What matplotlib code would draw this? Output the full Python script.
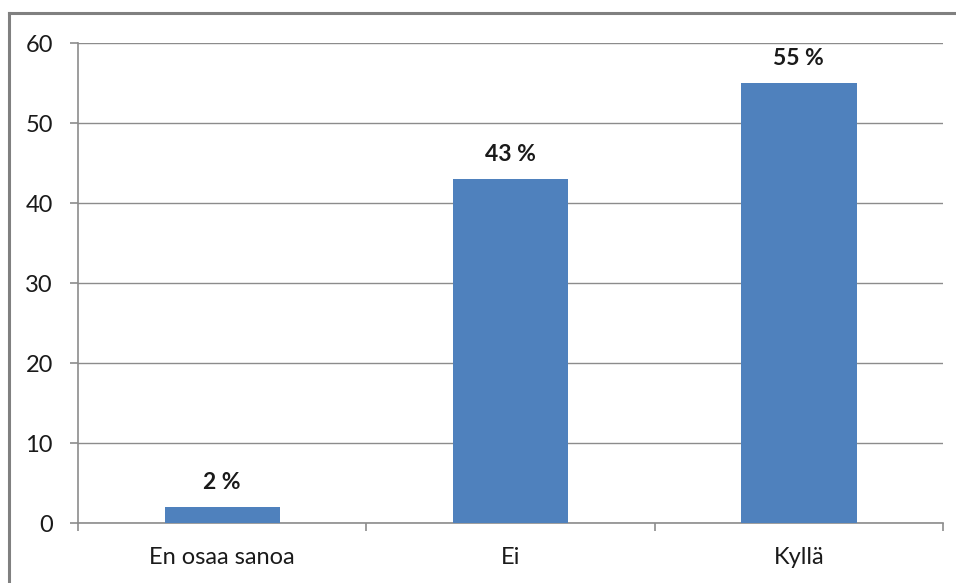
import matplotlib.pyplot as plt
from matplotlib.lines import Line2D
import numpy as np

categories = ["En osaa sanoa", "Ei", "Kyllä"]
values = [2, 43, 55]
value_labels = ["2 %", "43 %", "55 %"]
yticks = [0, 10, 20, 30, 40, 50, 60]

plt.rcParams['font.family'] = ['Lato', 'DejaVu Sans']

W, H = 956, 583
fig = plt.figure(figsize=(W / 100, H / 100), dpi=100)
fig.patch.set_facecolor('white')

# outer chart frame (top and left edges)
frame_kw = dict(color='#808080', linewidth=2.2, transform=fig.transFigure)
fig.add_artist(Line2D([9 / W, 1.01], [1 - 13 / H, 1 - 13 / H], **frame_kw))
fig.add_artist(Line2D([9 / W, 9 / W], [1 - 13 / H, -0.01], **frame_kw))

ax = fig.add_axes([78 / W, 1 - 523 / H, (943 - 78) / W, (523 - 43) / H])

x = np.arange(len(categories))
bars = ax.bar(x, values, width=0.4, color='#4F81BD', zorder=3)

ax.set_xlim(-0.5, len(categories) - 0.5)
ax.set_ylim(0, 60)
ax.set_yticks(yticks)
ax.yaxis.grid(True, color='#8c8c8c', linewidth=1.0, zorder=0)

for s in ['top', 'right']:
    ax.spines[s].set_visible(False)
for s in ['left', 'bottom']:
    ax.spines[s].set_color('#8c8c8c')
    ax.spines[s].set_linewidth(1.2)

ax.set_xticks(x)
ax.set_xticklabels(categories)
ax.set_xticks(np.arange(len(categories) + 1) - 0.5, minor=True)
ax.tick_params(axis='x', which='major', length=0, pad=17, labelsize=17, labelcolor='#1a1a1a')
ax.tick_params(axis='x', which='minor', length=6, width=1.2, color='#8c8c8c')
ax.tick_params(axis='y', length=6, width=1.2, color='#8c8c8c', pad=12, labelsize=17, labelcolor='#1a1a1a')

for xi, v, lab in zip(x, values, value_labels):
    ax.annotate(lab, (xi, v), xytext=(0, 10), textcoords='offset points',
                ha='center', va='bottom', fontsize=16.5, fontweight='bold', color='#1a1a1a')

fig.savefig('out.png', dpi=100)
